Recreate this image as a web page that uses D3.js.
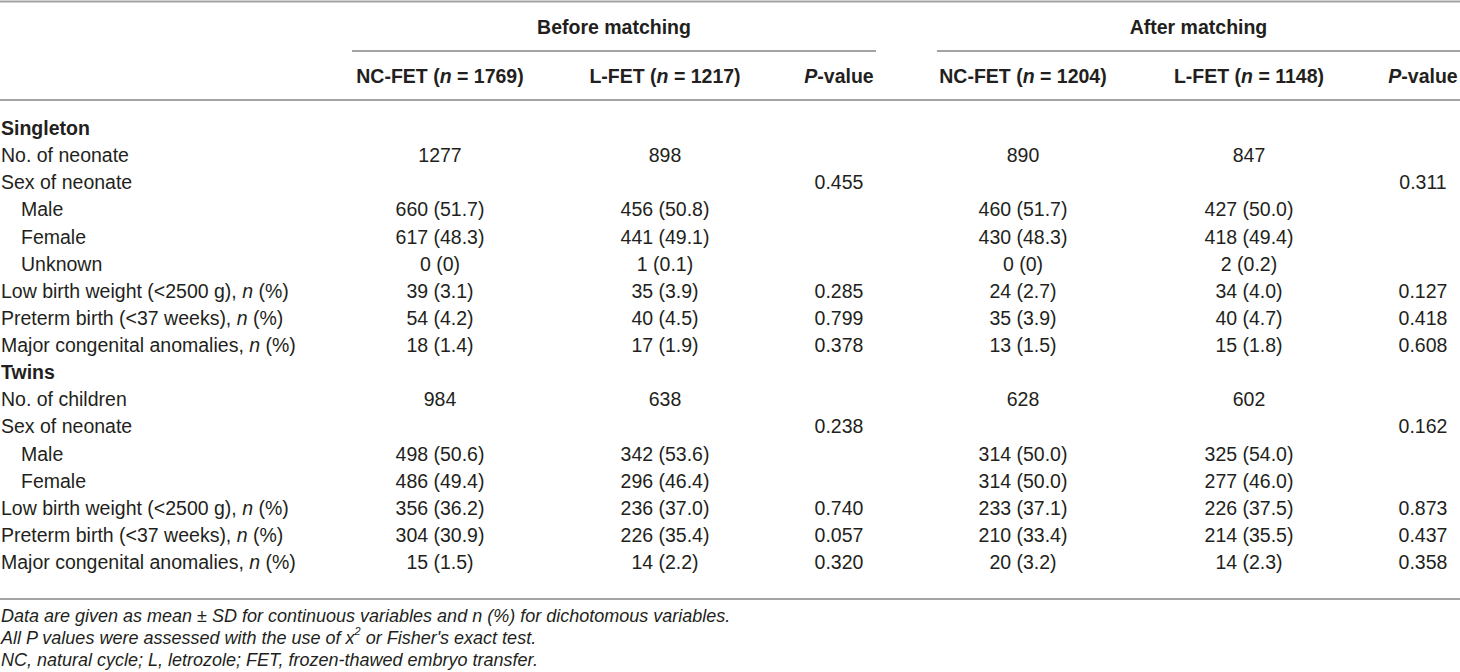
<!DOCTYPE html>
<html lang="en">

<head>
    <meta charset="UTF-8">
    <title>Neonatal outcomes table</title>
    <script src="https://cdn.jsdelivr.net/npm/d3@7"></script>
    <style>
        body { margin: 0; background: #fff; }
        svg text { font-family: "Liberation Sans", Arial, Helvetica, sans-serif; fill: #231f20; }
    </style>
</head>

<body>
    <div id="container"></div>

    <script>
        const width = 1460;
        const height = 672;

        // table content
        const groups = ['Before matching', 'After matching'];
        const arms = ['NC-FET', 'L-FET'];
        const armNBefore = [1769, 1217];
        const armNAfter = [1204, 1148];

        const rowLabels = [
            'Singleton', 'No. of neonate', 'Sex of neonate', 'Male', 'Female', 'Unknown',
            'Low birth weight (<2500 g), n (%)', 'Preterm birth (<37 weeks), n (%)', 'Major congenital anomalies, n (%)',
            'Twins', 'No. of children', 'Sex of neonate', 'Male', 'Female',
            'Low birth weight (<2500 g), n (%)', 'Preterm birth (<37 weeks), n (%)', 'Major congenital anomalies, n (%)'
        ];
        const sectionLabels = ['Singleton', 'Twins'];
        const subLabels = ['Male', 'Female', 'Unknown'];

        const ncBefore = ['', '1277', '', '660 (51.7)', '617 (48.3)', '0 (0)', '39 (3.1)', '54 (4.2)', '18 (1.4)', '', '984', '', '498 (50.6)', '486 (49.4)', '356 (36.2)', '304 (30.9)', '15 (1.5)'];
        const lBefore = ['', '898', '', '456 (50.8)', '441 (49.1)', '1 (0.1)', '35 (3.9)', '40 (4.5)', '17 (1.9)', '', '638', '', '342 (53.6)', '296 (46.4)', '236 (37.0)', '226 (35.4)', '14 (2.2)'];
        const pBefore = ['', '', '0.455', '', '', '', '0.285', '0.799', '0.378', '', '', '0.238', '', '', '0.740', '0.057', '0.320'];
        const ncAfter = ['', '890', '', '460 (51.7)', '430 (48.3)', '0 (0)', '24 (2.7)', '35 (3.9)', '13 (1.5)', '', '628', '', '314 (50.0)', '314 (50.0)', '233 (37.1)', '210 (33.4)', '20 (3.2)'];
        const lAfter = ['', '847', '', '427 (50.0)', '418 (49.4)', '2 (0.2)', '34 (4.0)', '40 (4.7)', '15 (1.8)', '', '602', '', '325 (54.0)', '277 (46.0)', '226 (37.5)', '214 (35.5)', '14 (2.3)'];
        const pAfter = ['', '', '0.311', '', '', '', '0.127', '0.418', '0.608', '', '', '0.162', '', '', '0.873', '0.437', '0.358'];

        const footnotes = [
            'Data are given as mean ± SD for continuous variables and n (%) for dichotomous variables.',
            'All P values were assessed with the use of x2 or Fisher\'s exact test.',
            'NC, natural cycle; L, letrozole; FET, frozen-thawed embryo transfer.'
        ];

        const colKeys = ['ncBefore', 'lBefore', 'pBefore', 'ncAfter', 'lAfter', 'pAfter'];
        const colValues = [ncBefore, lBefore, pBefore, ncAfter, lAfter, pAfter];

        const x = d3.scaleOrdinal().domain(colKeys).range([440, 665, 839, 1023, 1249, 1423]);
        const y = d3.scaleLinear().domain([0, rowLabels.length - 1]).range([128, 562]);
        const lineColor = '#a3a3a3';

        const svg = d3.select('#container').append('svg')
            .attr('width', width)
            .attr('height', height);

        // rules
        const rules = svg.append('g').attr('stroke', lineColor).attr('stroke-width', 2);
        [[0, width, 1.5], [0, width, 100], [0, width, 599]].forEach(([x1, x2, yy]) => {
            rules.append('line').attr('x1', x1).attr('x2', x2).attr('y1', yy).attr('y2', yy);
        });

        // group spanners
        const spans = [[352, 876], [937, width]];
        groups.forEach((g, i) => {
            const [a, b] = spans[i];
            rules.append('line').attr('x1', a).attr('x2', b).attr('y1', 51).attr('y2', 51);
            svg.append('text')
                .attr('x', (a + b) / 2).attr('y', 27)
                .attr('text-anchor', 'middle').attr('dominant-baseline', 'central')
                .attr('font-size', 19.5).attr('font-weight', 'bold')
                .text(g);
        });

        // column headers
        const head = svg.append('g').attr('font-size', 19.5).attr('font-weight', 'bold')
            .attr('text-anchor', 'middle');

        function armHeader(key, name, n) {
            const t = head.append('text').attr('x', x(key)).attr('y', 76).attr('dominant-baseline', 'central');
            t.append('tspan').text(name + ' (');
            t.append('tspan').attr('font-style', 'italic').text('n');
            t.append('tspan').text(' = ' + n + ')');
        }

        function pHeader(key) {
            const t = head.append('text').attr('x', x(key)).attr('y', 76).attr('dominant-baseline', 'central');
            t.append('tspan').attr('font-style', 'italic').text('P');
            t.append('tspan').text('-value');
        }

        armHeader('ncBefore', arms[0], armNBefore[0]);
        armHeader('lBefore', arms[1], armNBefore[1]);
        pHeader('pBefore');
        armHeader('ncAfter', arms[0], armNAfter[0]);
        armHeader('lAfter', arms[1], armNAfter[1]);
        pHeader('pAfter');

        // row labels
        const labels = svg.append('g').attr('font-size', 19.5);
        rowLabels.forEach((label, i) => {
            const isSection = sectionLabels.includes(label);
            const t = labels.append('text')
                .attr('x', subLabels.includes(label) ? 21 : 1)
                .attr('y', y(i))
                .attr('dominant-baseline', 'central')
                .attr('font-weight', isSection ? 'bold' : null);
            const m = label.match(/^(.*), n \(%\)$/);
            if (m) {
                t.append('tspan').text(m[1] + ', ');
                t.append('tspan').attr('font-style', 'italic').text('n');
                t.append('tspan').text(' (%)');
            } else {
                t.text(label);
            }
        });

        // cell values
        const cells = svg.append('g').attr('font-size', 19.5).attr('text-anchor', 'middle');
        colKeys.forEach((key, c) => {
            cells.append('g').selectAll('text')
                .data(colValues[c].map((v, i) => ({ v, i })).filter(d => d.v !== ''))
                .join('text')
                .attr('x', x(key))
                .attr('y', d => y(d.i))
                .attr('dominant-baseline', 'central')
                .text(d => d.v);
        });

        // footnotes
        const notes = svg.append('g').attr('font-size', 18).attr('font-style', 'italic');
        const noteY = d3.scaleLinear().domain([0, footnotes.length - 1]).range([616, 660]);
        footnotes.forEach((f, i) => {
            const t = notes.append('text').attr('x', 1).attr('y', noteY(i)).attr('dominant-baseline', 'central');
            if (f.includes('x2')) {
                const [a, b] = f.split('x2');
                t.append('tspan').text(a + 'x');
                t.append('tspan').attr('font-size', 11).attr('dy', -7).text('2');
                t.append('tspan').attr('dy', 7).text(b);
            } else {
                t.text(f);
            }
        });
    </script>
</body>

</html>
